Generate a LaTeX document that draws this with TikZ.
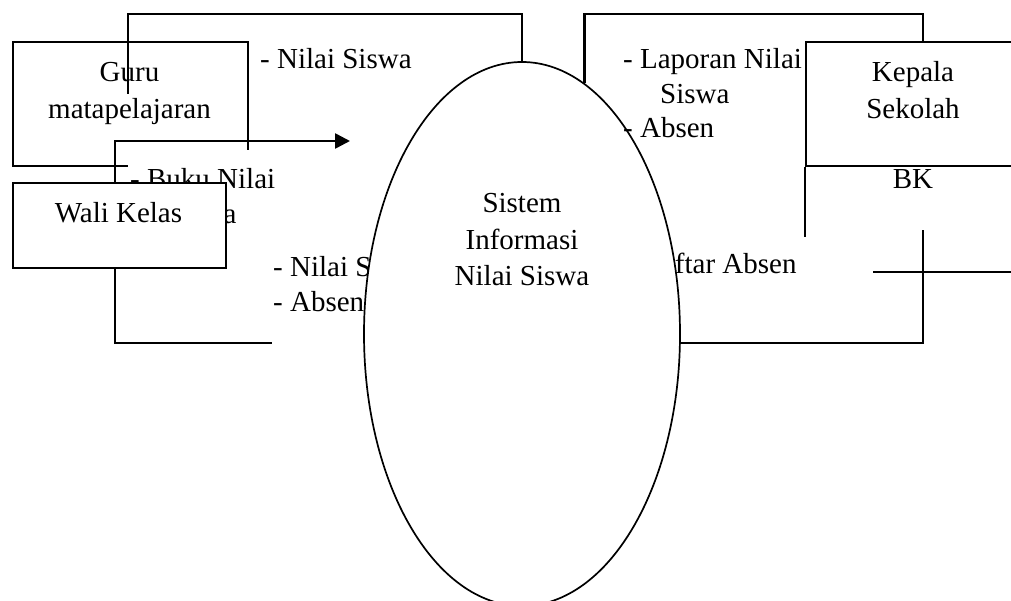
\documentclass[tikz,border=0pt]{standalone}
\usepackage{fontspec}
\setmainfont{Liberation Serif}
\usetikzlibrary{arrows.meta,shapes.geometric}
% a small block of lines whose baseline is the first line
\newcommand{\stacklines}[2]{\begin{tabular}[t]{@{}#1@{}}#2\end{tabular}}

\begin{document}
\begin{tikzpicture}[x=1pt,y=-1pt,
  conn/.style={line width=2.6pt},
  entity/.style={draw, line width=2.3pt, inner sep=0pt, anchor=north west},
  txt/.style={font=\fontsize{29}{34.5}\selectfont, inner sep=0pt, anchor=base west},
  ctxt/.style={font=\fontsize{29}{36.5}\selectfont, inner sep=0pt, anchor=base},
]
\useasboundingbox (0,0) rectangle (1011,601);
\clip (0,0) rectangle (1011,601);
\fill[white] (0,0) rectangle (1011,601);

% flow labels lying under the process bubble
\node[txt] (lblin) at (273,277) {\stacklines{l}{- Nilai Siswa\\- Absen}};
\node[txt] (lblbk) at (624,274) {- Daftar Absen};

% the process
\node[draw, fill=white, ellipse, line width=1.7pt, minimum width=316pt,
      minimum height=544pt, inner sep=0pt] (sys) at (522,334) {};
\node[ctxt] (systxt) at (522,213) {\stacklines{c}{Sistem\\Informasi\\Nilai Siswa}};

% teacher
\node[entity, minimum width=235pt, minimum height=124pt] (guru) at (12,41) {};
\node[ctxt] (gurutxt) at (129.5,82) {\stacklines{c}{Guru\\matapelajaran}};

\coordinate (ltop) at (128,14);
\coordinate (lend) at (128,94);
\draw[conn] (lend) -- (ltop) -| (sys.north);
\node[txt] (lblnilai) at (260,69) {- Nilai Siswa};

% homeroom teacher
\coordinate (lbot) at (115,343);
\coordinate (tipL) at (350,141);
\coordinate (lstub) at (272,343);
\fill[white] (128,150) rectangle (300,236);
\node[txt] (lblbuku) at (130,189) {\stacklines{l}{- Buku Nilai\\\hspace{37pt}Siswa}};
\node[entity, fill=white, minimum width=213pt, minimum height=85pt] (wali) at (12,182) {};
\node[ctxt] (walitxt) at (118.5,223) {Wali Kelas};
\draw[conn, -{Triangle[length=15pt,width=15pt]}] (wali.north -| lbot) |- (tipL);
\draw[conn] (wali.south -| lbot) -- (lbot) -- (lstub);

% principal and counselling
\node[txt] (lbllap) at (623,69) {\stacklines{l}{- Laporan Nilai\\\hspace{37pt}Siswa\\- Absen}};
\node[entity, fill=white, minimum width=216pt, minimum height=124pt] (kepala) at (805,41) {};
\node[ctxt] (kepalatxt) at (913,82) {\stacklines{c}{Kepala\\Sekolah}};
\coordinate (rtop) at (923,14);
\draw[conn] (sys.76.3) |- (rtop) -- (rtop |- kepala.north);
\draw[line width=2.3pt] (kepala.south west) -- ++(0,70);
\node[ctxt] (bktxt) at (913,189) {BK};

\coordinate (rbot) at (923,343);
\coordinate (rstub) at (923,230);
\draw[conn] (sys.east |- rbot) -- (rbot) -- (rstub);
\coordinate (xa) at (873,272);
\coordinate (xb) at (1011,272);
\draw[conn] (xa) -- (xb);
\end{tikzpicture}
\end{document}
